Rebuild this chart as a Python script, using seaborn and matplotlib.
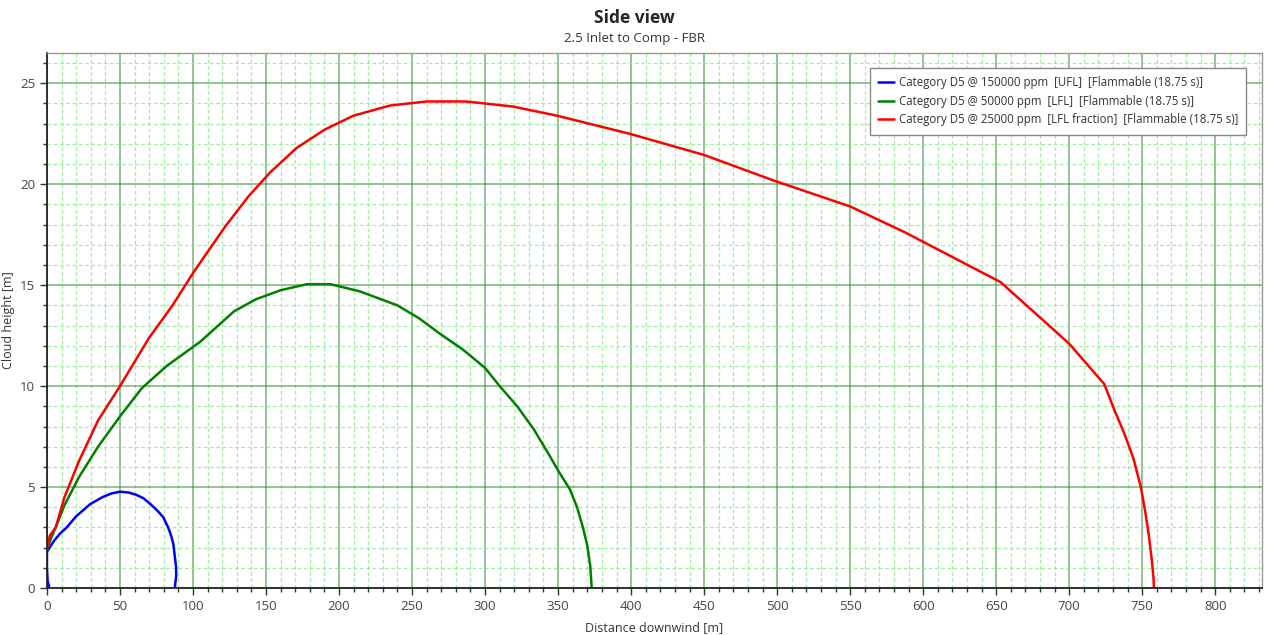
import numpy as np
import matplotlib
matplotlib.use("Agg")
import matplotlib.pyplot as plt
import seaborn as sns
from matplotlib.ticker import MultipleLocator

# cloud side-view contours (distance [m], height [m])
ufl_x = [0, 1.5, 0.5, 0, 0, 5, 9, 13.5, 20, 29.5, 38, 44, 50, 56, 61, 66, 71, 76, 79.7, 83,
         85, 86.5, 87.5, 88.4, 88.5, 87.5]
ufl_y = [0, 0.1, 0.3, 1.0, 1.8, 2.35, 2.7, 3.0, 3.55, 4.15, 4.5, 4.68, 4.77, 4.73, 4.62, 4.45,
         4.15, 3.8, 3.5, 3.0, 2.6, 2.2, 1.6, 1.05, 0.6, 0]

lfl_x = [0, 3, 6, 12, 22, 35, 50, 65, 82, 105, 128, 143, 160, 178, 194, 214, 240, 255, 269,
         285, 300, 310, 322, 333, 343, 351, 358, 363, 367, 370, 372, 373]
lfl_y = [1.9, 2.5, 3.0, 4.1, 5.5, 7.0, 8.5, 9.9, 11.0, 12.2, 13.7, 14.3, 14.75, 15.05, 15.05,
         14.7, 14.0, 13.35, 12.6, 11.8, 10.9, 10.0, 9.0, 7.9, 6.7, 5.7, 4.9, 4.0, 3.0, 2.1,
         1.1, 0]

frac_x = [0, 2, 6, 12, 22, 35, 50, 70, 86, 100, 122, 138, 153, 171, 190, 210, 235, 260, 287,
          319, 349, 399, 450, 497, 550, 588, 653, 700, 724, 731, 738, 744, 749, 752, 754.5,
          756.5, 757.7, 758]
frac_y = [2.0, 2.6, 3.0, 4.5, 6.3, 8.3, 10.0, 12.4, 14.0, 15.6, 17.9, 19.4, 20.6, 21.8, 22.7,
          23.4, 23.9, 24.1, 24.1, 23.85, 23.4, 22.5, 21.45, 20.2, 18.9, 17.6, 15.15, 12.1, 10.1,
          8.8, 7.6, 6.4, 5.0, 3.8, 2.6, 1.4, 0.5, 0]

labels = [
    "Category D5 @ 150000 ppm  [UFL]  [Flammable (18.75 s)]",
    "Category D5 @ 50000 ppm  [LFL]  [Flammable (18.75 s)]",
    "Category D5 @ 25000 ppm  [LFL fraction]  [Flammable (18.75 s)]",
]
colors = ["#0000ff", "#008000", "#ff0000"]

sns.set_style("white")
plt.rcParams["font.family"] = ["Open Sans", "DejaVu Sans"]

fig = plt.figure(figsize=(12.69, 6.35), dpi=100)
ax = fig.add_axes([0.037, 0.074, 0.9575, 0.8425])

for xs, ys, lab, c in zip([ufl_x, lfl_x, frac_x], [ufl_y, lfl_y, frac_y], labels, colors):
    sns.lineplot(x=xs, y=ys, sort=False, estimator=None, color=c, linewidth=1.8,
                 label=lab, ax=ax)

ax.set_xlim(0, 832)
ax.set_ylim(0, 26.5)
ax.xaxis.set_major_locator(MultipleLocator(50))
ax.xaxis.set_minor_locator(MultipleLocator(10))
ax.yaxis.set_major_locator(MultipleLocator(5))
ax.yaxis.set_minor_locator(MultipleLocator(1))

ax.grid(which="minor", color="#8fe88f", linestyle=(0, (3, 2)), linewidth=0.9, alpha=0.8)
ax.grid(which="major", color="#2e8b2e", linestyle="-", linewidth=1.2, alpha=0.6)
ax.set_axisbelow(True)

ax.tick_params(which="major", direction="out", length=5, width=1, color="#333333",
               labelsize=9.5, labelcolor="#444444", bottom=True, left=True)
ax.tick_params(which="minor", direction="out", length=3, width=1, color="#333333",
               bottom=True, left=True)

for side in ["left", "bottom"]:
    ax.spines[side].set_color("#222222")
    ax.spines[side].set_linewidth(1.3)
for side in ["top", "right"]:
    ax.spines[side].set_color("#999999")
    ax.spines[side].set_linewidth(1.0)

ax.set_xlabel("Distance downwind [m]", fontsize=9, color="#333333")
ax.set_ylabel("Cloud height [m]", fontsize=9, color="#333333")
ax.xaxis.set_label_coords(0.5, -0.062)
ax.yaxis.set_label_coords(-0.026, 0.5)

fig.text(0.5, 0.972, "Side view", ha="center", va="center", fontsize=12.5, fontweight="bold")
fig.text(0.5, 0.94, "2.5 Inlet to Comp - FBR", ha="center", va="center", fontsize=9.5,
         color="#333333")

leg = ax.legend(loc="upper right", bbox_to_anchor=(0.9918, 0.983), fontsize=8.3, frameon=True,
                fancybox=False, edgecolor="#888888", framealpha=1, handlelength=1.4,
                handletextpad=0.4, labelspacing=0.5, borderpad=0.7)
for text in leg.get_texts():
    text.set_color("#333333")

fig.savefig("out.png", dpi=100)
